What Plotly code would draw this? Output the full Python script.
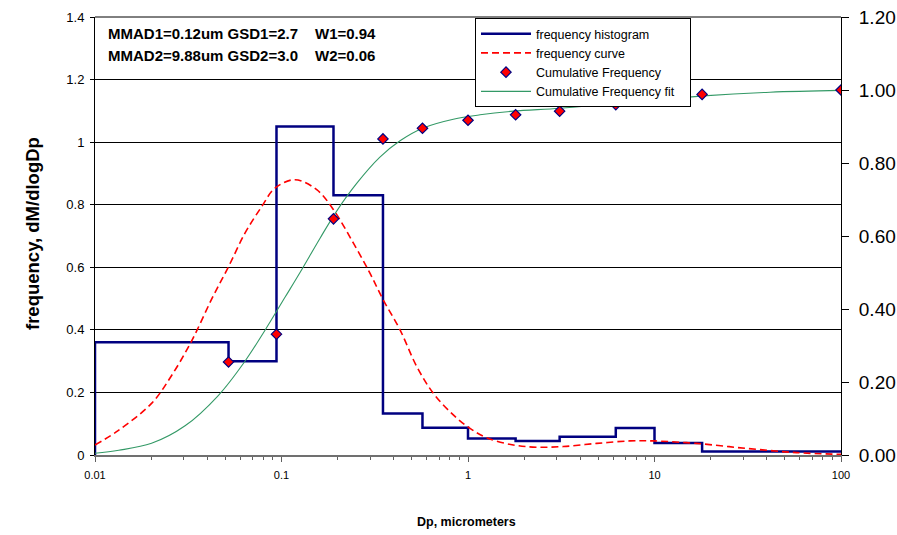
import plotly.graph_objects as go

# ---- data ----
bin_edges = [0.01, 0.052, 0.094, 0.19, 0.35, 0.57, 1.0, 1.8, 3.1, 6.2, 10, 18, 100]
hist_freq = [0.36, 0.30, 1.05, 0.83, 0.133, 0.087, 0.053, 0.045, 0.058, 0.086, 0.038, 0.011]

curve_dp = [0.01, 0.0133, 0.0201, 0.0258, 0.033, 0.0422, 0.052, 0.0637, 0.0783, 0.0923,
            0.118, 0.1545, 0.19, 0.243, 0.298, 0.351, 0.432, 0.531, 0.652, 0.834,
            1.025, 1.26, 1.75, 2.33, 3.24, 4.9, 7.39, 9.86, 16.8, 31.2, 57.8, 100]
curve_freq = [0.032, 0.078, 0.165, 0.255, 0.365, 0.498, 0.602, 0.709, 0.794, 0.853,
              0.880, 0.848, 0.784, 0.677, 0.581, 0.496, 0.400, 0.283, 0.197, 0.128,
              0.085, 0.055, 0.032, 0.025, 0.027, 0.037, 0.045, 0.045, 0.037, 0.021, 0.0075, 0.002]

cum_dp = [0.052, 0.094, 0.19, 0.35, 0.57, 1.0, 1.8, 3.1, 6.2, 18, 100]
cum_freq = [0.255, 0.331, 0.647, 0.866, 0.895, 0.917, 0.932, 0.942, 0.960, 0.988, 1.0]

fit_dp = [0.01, 0.0134, 0.0201, 0.0304, 0.0458, 0.0637, 0.0816, 0.1044, 0.1257, 0.161,
          0.198, 0.253, 0.337, 0.432, 0.575, 0.834, 1.16, 1.75, 3.11, 6.0, 18.3, 41.6, 100]
fit_cum = [0.005, 0.013, 0.032, 0.080, 0.163, 0.257, 0.342, 0.432, 0.500, 0.594,
           0.669, 0.744, 0.816, 0.861, 0.896, 0.920, 0.932, 0.942, 0.950, 0.963, 0.984, 0.994, 0.999]

left_ticks = [0, 0.2, 0.4, 0.6, 0.8, 1.0, 1.2, 1.4]
left_ticktext = ["0", "0.2", "0.4", "0.6", "0.8", "1", "1.2", "1.4"]
x_ticks = [0.01, 0.1, 1, 10, 100]
x_ticktext = ["0.01", "0.1", "1", "10", "100"]

FONT = "Liberation Sans, Arial, sans-serif"

# step outline of the histogram, starting from zero at the first edge
step_x = [bin_edges[0]] + bin_edges
step_y = [0] + hist_freq + [hist_freq[-1]]

fig = go.Figure()
fig.add_trace(go.Scatter(x=step_x, y=step_y, mode="lines", line_shape="hv",
                         line=dict(color="#000080", width=2.5),
                         name="frequency histogram", legendrank=1))
fig.add_trace(go.Scatter(x=curve_dp, y=curve_freq, mode="lines", line_shape="spline",
                         line=dict(color="#FF0000", width=1.6, dash="7px,4px"),
                         name="frequency curve", legendrank=2))
fig.add_trace(go.Scatter(x=fit_dp, y=fit_cum, mode="lines", line_shape="spline",
                         line=dict(color="#339966", width=1.1),
                         name="Cumulative Frequency fit\u00a0\u00a0\u00a0", yaxis="y2", legendrank=4))
fig.add_trace(go.Scatter(x=cum_dp, y=cum_freq, mode="markers",
                         marker=dict(symbol="diamond", size=8, color="#FF0000",
                                     line=dict(color="#000080", width=1.2)),
                         name="Cumulative Frequency", yaxis="y2", legendrank=3))

fig.update_layout(
    width=897, height=535,
    margin=dict(l=95, r=56, t=17, b=80, autoexpand=False),
    paper_bgcolor="white", plot_bgcolor="white",
    font=dict(family=FONT, color="black"),
    showlegend=True,
    legend=dict(x=(475 - 95) / 746, y=(455 - 18) / 438, xanchor="left", yanchor="top",
                bgcolor="white", bordercolor="black", borderwidth=1,
                itemwidth=50,
                font=dict(size=12.5, family=FONT), tracegroupgap=0),
    xaxis=dict(type="log", range=[-2, 2], tickvals=x_ticks, ticktext=x_ticktext,
               ticks="outside", ticklen=5, tickcolor="#606060", tickwidth=1,
               tickfont=dict(size=11), automargin=False, ticklabelstandoff=4,
               minor=dict(ticks="outside", ticklen=3, tickcolor="#606060", dtick="D1", showgrid=False),
               showline=True, linecolor="#707070", linewidth=2,
               showgrid=False, zeroline=False),
    yaxis=dict(range=[0, 1.4], tickvals=left_ticks, ticktext=left_ticktext,
               ticks="outside", ticklen=4, tickcolor="black",
               tickfont=dict(size=13), automargin=False, ticklabelstandoff=3,
               showline=True, linecolor="black", linewidth=1,
               showgrid=True, gridcolor="black", gridwidth=1, zeroline=False),
    yaxis2=dict(range=[0, 1.2], dtick=0.2, tickformat=".2f", overlaying="y", side="right",
                ticks="outside", ticklen=7, tickcolor="black",
                tickfont=dict(size=19), ticklabelstandoff=6, automargin=False,
                showline=True, linecolor="black", linewidth=1,
                showgrid=False, zeroline=False),
    shapes=[dict(type="line", xref="paper", yref="paper", x0=0, x1=1, y0=1, y1=1,
                 line=dict(color="black", width=1), layer="below")],
)

ann_font = dict(family=FONT, size=15, color="black", weight="bold")
for txt, x0, y0 in [("MMAD1=0.12um GSD1=2.7", 106, 34), ("W1=0.94", 313, 34),
                    ("MMAD2=9.88um GSD2=3.0", 106, 55), ("W2=0.06", 313, 55)]:
    fig.add_annotation(text=txt, xref="paper", yref="paper",
                       x=(x0 - 95) / 746, y=(455 - y0) / 438,
                       xanchor="left", yanchor="middle", showarrow=False, font=ann_font)

fig.add_annotation(text="frequency, dM/dlogDp", xref="paper", yref="paper",
                   x=(33 - 95) / 746, y=(455 - 234) / 438, textangle=-90,
                   xanchor="center", yanchor="middle", showarrow=False,
                   font=dict(family=FONT, size=18.5, color="black", weight="bold"))
fig.add_annotation(text="Dp, micrometers", xref="paper", yref="paper",
                   x=(466 - 95) / 746, y=(455 - 522) / 438,
                   xanchor="center", yanchor="middle", showarrow=False,
                   font=dict(family=FONT, size=12.5, color="black", weight="bold"))

fig.write_html("out.html")
